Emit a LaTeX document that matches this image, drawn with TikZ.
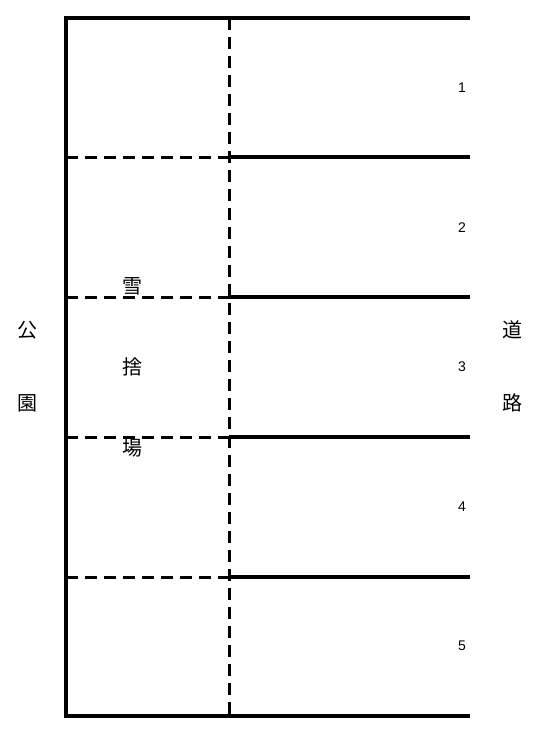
\documentclass[tikz,border=0pt]{standalone}
\usepackage{fontspec}
\setmainfont{Liberation Sans}
\newfontfamily\jpfont{Noto Sans CJK JP}
\usetikzlibrary{positioning}
\tikzset{
    wall/.style={
        draw=black,
        line width=4.5pt
    },
    lotline/.style={
        draw=black,
        line width=4pt
    },
    divider/.style={
        draw=black,
        line width=3pt,
        dash pattern=on 12pt off 7pt
    },
    kanji/.style={
        inner sep=0pt,
        font=\jpfont\fontsize{20}{20}\selectfont
    },
    lotnum/.style={
        inner sep=0pt,
        font=\fontsize{14}{14}\selectfont
    }
}

\begin{document}
\begin{tikzpicture}[x=1pt, y=-1pt]

\useasboundingbox (0,0) rectangle (538,756);

% outline
\coordinate (nw) at (66,18);
\coordinate (ne) at (470,18);
\coordinate (sw) at (66,716);
\coordinate (se) at (470,716);
\coordinate (mt) at (229,18);
\coordinate (mb) at (229,716);

% lot boundaries
\coordinate (l1) at (66,157);  \coordinate (m1) at (229,157);  \coordinate (r1) at (470,157);
\coordinate (l2) at (66,297);  \coordinate (m2) at (229,297);  \coordinate (r2) at (470,297);
\coordinate (l3) at (66,437);  \coordinate (m3) at (229,437);  \coordinate (r3) at (470,437);
\coordinate (l4) at (66,577);  \coordinate (m4) at (229,577);  \coordinate (r4) at (470,577);

\draw[divider] (mt) -- (mb);
\draw[divider] (l1) -- (m1);
\draw[divider] (l2) -- (m2);
\draw[divider] (l3) -- (m3);
\draw[divider] (l4) -- (m4);

\draw[lotline] (m1) -- (r1);
\draw[lotline] (m2) -- (r2);
\draw[lotline] (m3) -- (r3);
\draw[lotline] (m4) -- (r4);

\draw[wall] (ne) -- (nw) -- (sw) -- (se);

% lot numbers
\node[lotnum] (n1) at (462,88) {1};
\node[lotnum] (n2) at (462,228) {2};
\node[lotnum] (n3) at (462,367) {3};
\node[lotnum] (n4) at (462,507) {4};
\node[lotnum] (n5) at (462,646) {5};

% names
\node[kanji] (ko) at (27,330) {公};
\node[kanji] (en) at (27,403) {園};
\node[kanji] (do) at (512,330) {道};
\node[kanji] (ro) at (512,403) {路};
\node[kanji] (yuki) at (132,286) {雪};
\node[kanji] (sute) at (132,367) {捨};
\node[kanji] (ba) at (132,448) {場};

\end{tikzpicture}
\end{document}
